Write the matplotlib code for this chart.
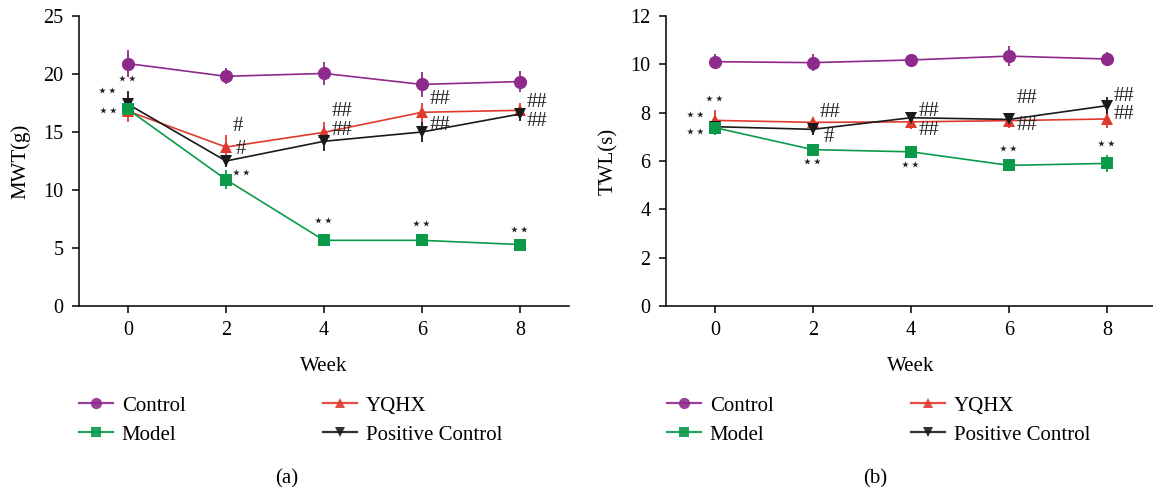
import matplotlib
matplotlib.use("Agg")
import matplotlib.pyplot as plt
from matplotlib.lines import Line2D

plt.rcParams['font.family'] = ['Liberation Serif', 'DejaVu Serif', 'DejaVu Sans']

weeks = [0, 2, 4, 6, 8]
groups = ["Control", "Model", "YQHX", "Positive Control"]

# Panel (a) MWT(g)
mwt_control = [20.9, 19.8, 20.05, 19.1, 19.35]
mwt_control_err = [1.2, 0.7, 1.0, 1.1, 0.9]
mwt_yqhx = [16.8, 13.7, 14.97, 16.7, 16.87]
mwt_yqhx_err = [0.9, 1.0, 0.85, 0.8, 0.6]
mwt_pos = [17.4, 12.5, 14.2, 15.0, 16.55]
mwt_pos_err = [1.1, 0.5, 0.8, 0.9, 0.6]
mwt_model = [16.95, 10.9, 5.66, 5.66, 5.3]
mwt_model_err = [0.6, 0.8, 0.1, 0.1, 0.1]

# Panel (b) TWL(s)
twl_control = [10.11, 10.07, 10.18, 10.34, 10.22]
twl_control_err = [0.3, 0.35, 0.26, 0.42, 0.3]
twl_yqhx = [7.68, 7.6, 7.62, 7.67, 7.74]
twl_yqhx_err = [0.42, 0.15, 0.3, 0.3, 0.37]
twl_pos = [7.42, 7.31, 7.79, 7.72, 8.29]
twl_pos_err = [0.2, 0.25, 0.15, 0.2, 0.37]
twl_model = [7.38, 6.47, 6.38, 5.82, 5.9]
twl_model_err = [0.3, 0.1, 0.15, 0.1, 0.35]

colors = {"Control": "#8e2a8c", "Model": "#0a9a4a", "YQHX": "#e03a2e", "Positive Control": "#1a1a1a"}
markers = {"Control": "o", "Model": "s", "YQHX": "^", "Positive Control": "v"}
msizes = {"Control": 9.5, "Model": 9.0, "YQHX": 8.5, "Positive Control": 8.5}

# annotations (text, x, y)
ann_a = [("**", 0.0, 19.5), ("**", -0.42, 18.5), ("**", -0.4, 16.8),
         ("#", 2.25, 15.5), ("#", 2.3, 13.45), ("**", 2.33, 11.4),
         ("##", 4.37, 16.75), ("##", 4.37, 15.1),
         ("##", 6.36, 17.8), ("##", 6.36, 15.55),
         ("##", 8.35, 17.55), ("##", 8.35, 15.9),
         ("**", 3.99, 7.3), ("**", 6.0, 7.05), ("**", 8.0, 6.5)]
ann_b = [("**", 0.0, 8.56), ("**", -0.4, 7.89), ("**", -0.4, 7.19),
         ("##", 2.35, 8.01), ("#", 2.32, 6.98), ("**", 1.99, 5.93),
         ("##", 4.36, 8.04), ("##", 4.36, 7.25), ("**", 3.99, 5.82),
         ("##", 6.36, 8.58), ("##", 6.36, 7.47), ("**", 5.99, 6.47),
         ("##", 8.35, 8.65), ("##", 8.35, 7.92), ("**", 8.0, 6.69)]

W, H = 1153, 487
fig = plt.figure(figsize=(W / 100, H / 100), dpi=100)

def px(x0, y_top, x1, y_bot):
    return [x0 / W, 1 - y_bot / H, (x1 - x0) / W, (y_bot - y_top) / H]

ax1 = fig.add_axes(px(79, 16, 569, 306))
ax2 = fig.add_axes(px(666, 16, 1156, 306))

FS = 15

def draw(ax, data, ylim, yticks, ylabel, ann, ylx):
    order = ["Control", "YQHX", "Positive Control", "Model"]
    for g in order:
        y, e = data[g]
        ax.errorbar(weeks, y, yerr=e, color=colors[g], marker=markers[g],
                    markersize=msizes[g], lw=1.2, elinewidth=1.3, capsize=4.5,
                    capthick=1.3, markeredgewidth=0, label=g, clip_on=False)
    ax.set_xlim(-1, 9)
    ax.set_ylim(*ylim)
    ax.set_xticks(weeks)
    ax.set_yticks(yticks)
    for s in ["top", "right"]:
        ax.spines[s].set_visible(False)
    for s in ["left", "bottom"]:
        ax.spines[s].set_linewidth(1.1)
    ax.tick_params(direction="out", length=5, width=1.1, labelsize=14.5, pad=6)
    ax.set_xlabel("Week", fontsize=FS)
    ax.set_ylabel(ylabel, fontsize=FS)
    ax.xaxis.set_label_coords(0.5, -0.175)
    ax.yaxis.set_label_coords(ylx, 0.5)
    for t, x, y in ann:
        if t.startswith("*"):
            ax.text(x, y, "\u22c6\u22c6", ha="center", va="center", fontsize=12.5,
                    family=["DejaVu Sans"], color="#222222")
        else:
            ax.text(x, y, t, ha="center", va="center", fontsize=15, color="#222222")

draw(ax1, {"Control": (mwt_control, mwt_control_err), "YQHX": (mwt_yqhx, mwt_yqhx_err),
           "Positive Control": (mwt_pos, mwt_pos_err), "Model": (mwt_model, mwt_model_err)},
     (0, 25), [0, 5, 10, 15, 20, 25], "MWT(g)", ann_a, -0.10)
draw(ax2, {"Control": (twl_control, twl_control_err), "YQHX": (twl_yqhx, twl_yqhx_err),
           "Positive Control": (twl_pos, twl_pos_err), "Model": (twl_model, twl_model_err)},
     (0, 12), [0, 2, 4, 6, 8, 10, 12], "TWL(s)", ann_b, -0.097)

def handle(g):
    return Line2D([0], [0], color=colors[g], marker=markers[g], markersize=msizes[g] * 0.85,
                  lw=1.6, markeredgewidth=0, alpha=0.9)

def add_legends(col1_x, col2_x, lab, lab_x):
    for gs, xx in ((["Control", "Model"], col1_x), (["YQHX", "Positive Control"], col2_x)):
        fig.legend([handle(g) for g in gs], gs, loc="upper left",
                   bbox_to_anchor=(xx / W, 1 - 396 / H), frameon=False, fontsize=FS,
                   handlelength=1.65, handletextpad=0.4, labelspacing=0.45,
                   borderaxespad=0, borderpad=0)
    fig.text(lab_x / W, 1 - 479 / H, lab, ha="center", va="center", fontsize=FS)

add_legends(79, 323, "(a)", 287)
add_legends(667, 911, "(b)", 875)

fig.savefig("out.png", dpi=100)
